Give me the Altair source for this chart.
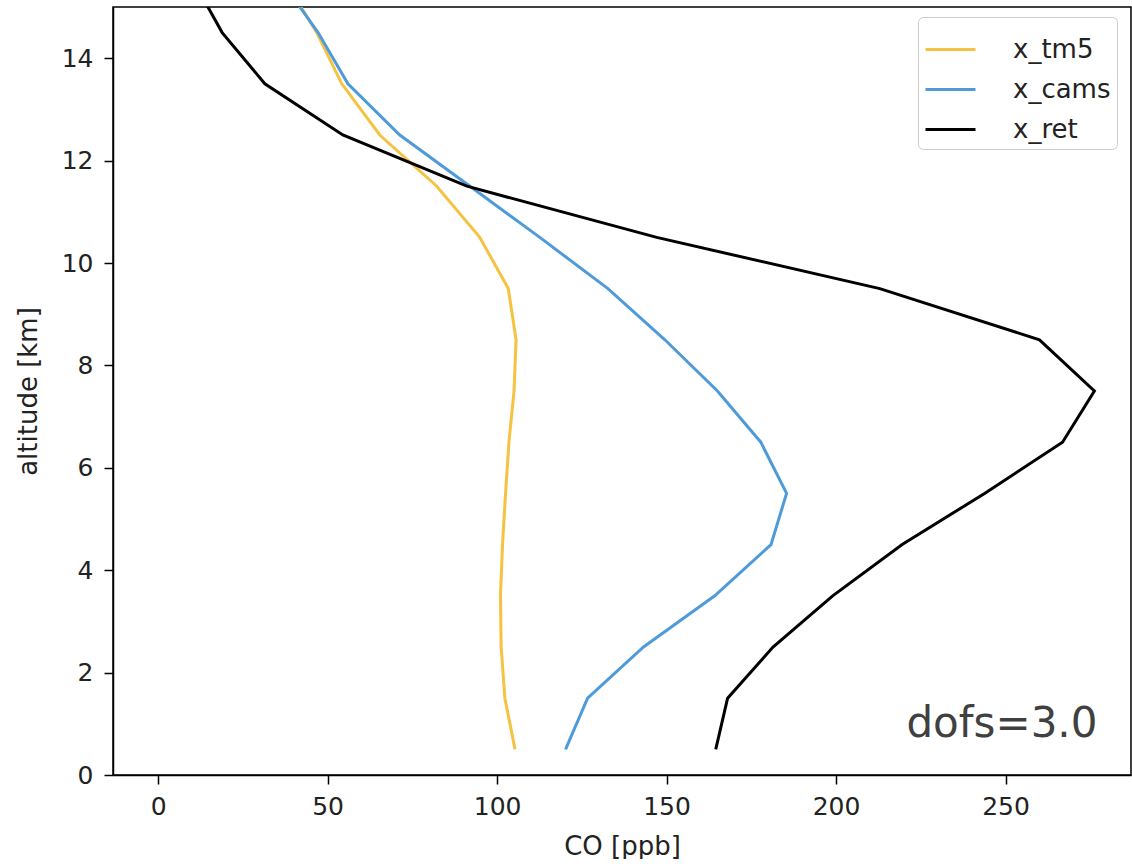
import altair as alt
import pandas as pd

altitude = [0.5, 1.5, 2.5, 3.5, 4.5, 5.5, 6.5, 7.5, 8.5, 9.5, 10.5, 11.5, 12.5, 13.5, 14.5, 15.5]
x_tm5 = [105.3, 102.3, 101.2, 101.0, 101.6, 102.5, 103.5, 105.0, 105.6, 103.3, 94.9, 82.2, 65.4, 54.2, 46.8, 37.5]
x_cams = [120.2, 126.7, 143.2, 164.2, 180.8, 185.4, 177.8, 165.0, 149.5, 132.7, 112.6, 92.0, 71.3, 56.0, 47.2, 36.5]
x_ret = [164.5, 168.0, 181.4, 199.0, 219.5, 243.8, 266.8, 276.2, 260.0, 212.9, 147.1, 91.1, 54.5, 31.5, 18.9, 10.5]

series_names = ["x_tm5", "x_cams", "x_ret"]
series_colors = ["#f5c242", "#4f9bd9", "#000000"]

rows = []
for name, vals in zip(series_names, [x_tm5, x_cams, x_ret]):
    for a, v in zip(altitude, vals):
        rows.append({"series": name, "altitude": a, "co": v})
df = pd.DataFrame(rows)

annot = pd.DataFrame({"co": [277.1], "altitude": [0.74], "label": ["dofs=3.0"]})

FONT = "DejaVu Sans"

x_scale = alt.Scale(domain=[-13.3, 287], nice=False, zero=False)
y_scale = alt.Scale(domain=[0, 15], nice=False, zero=False)

lines = alt.Chart(df).mark_line(strokeWidth=3, clip=True).encode(
    x=alt.X("co:Q", scale=x_scale, title="CO [ppb]",
            axis=alt.Axis(values=[0, 50, 100, 150, 200, 250], grid=False)),
    y=alt.Y("altitude:Q", scale=y_scale, title="altitude [km]",
            axis=alt.Axis(values=[0, 2, 4, 6, 8, 10, 12, 14], grid=False)),
    color=alt.Color("series:N",
                    scale=alt.Scale(domain=series_names, range=series_colors),
                    sort=series_names,
                    legend=alt.Legend(title=None, orient="none", legendX=805, legendY=10,
                                      symbolType="stroke", symbolSize=2500,
                                      symbolStrokeWidth=3, labelFontSize=26,
                                      labelFont=FONT, labelColor="#222222",
                                      rowPadding=-6, labelOffset=36,
                                      strokeColor="#cccccc", cornerRadius=5,
                                      padding=6, fillColor="white")),
    order=alt.Order("altitude:Q"),
)

text = alt.Chart(annot).mark_text(
    align="right", baseline="alphabetic", fontSize=42, font=FONT, color="#404040"
).encode(x=alt.X("co:Q", scale=x_scale), y=alt.Y("altitude:Q", scale=y_scale), text="label:N")

chart = alt.layer(lines, text).properties(
    width=1018, height=768,
    padding={"left": 15, "top": 7, "right": 1, "bottom": 0},
).configure_view(stroke="#000000", strokeWidth=1.5).configure_axis(
    domainColor="#000000", domainWidth=1.5, tickColor="#000000", tickWidth=1.5,
    tickSize=9, labelFont=FONT, labelFontSize=25, labelColor="#222222",
    titleFont=FONT, titleFontSize=26, titleFontWeight="normal", titleColor="#222222",
).configure_axisY(titlePadding=20, labelPadding=11).configure_axisX(titlePadding=14, labelPadding=10)

chart.save("out.html", embed_options={"renderer": "svg", "actions": False})
